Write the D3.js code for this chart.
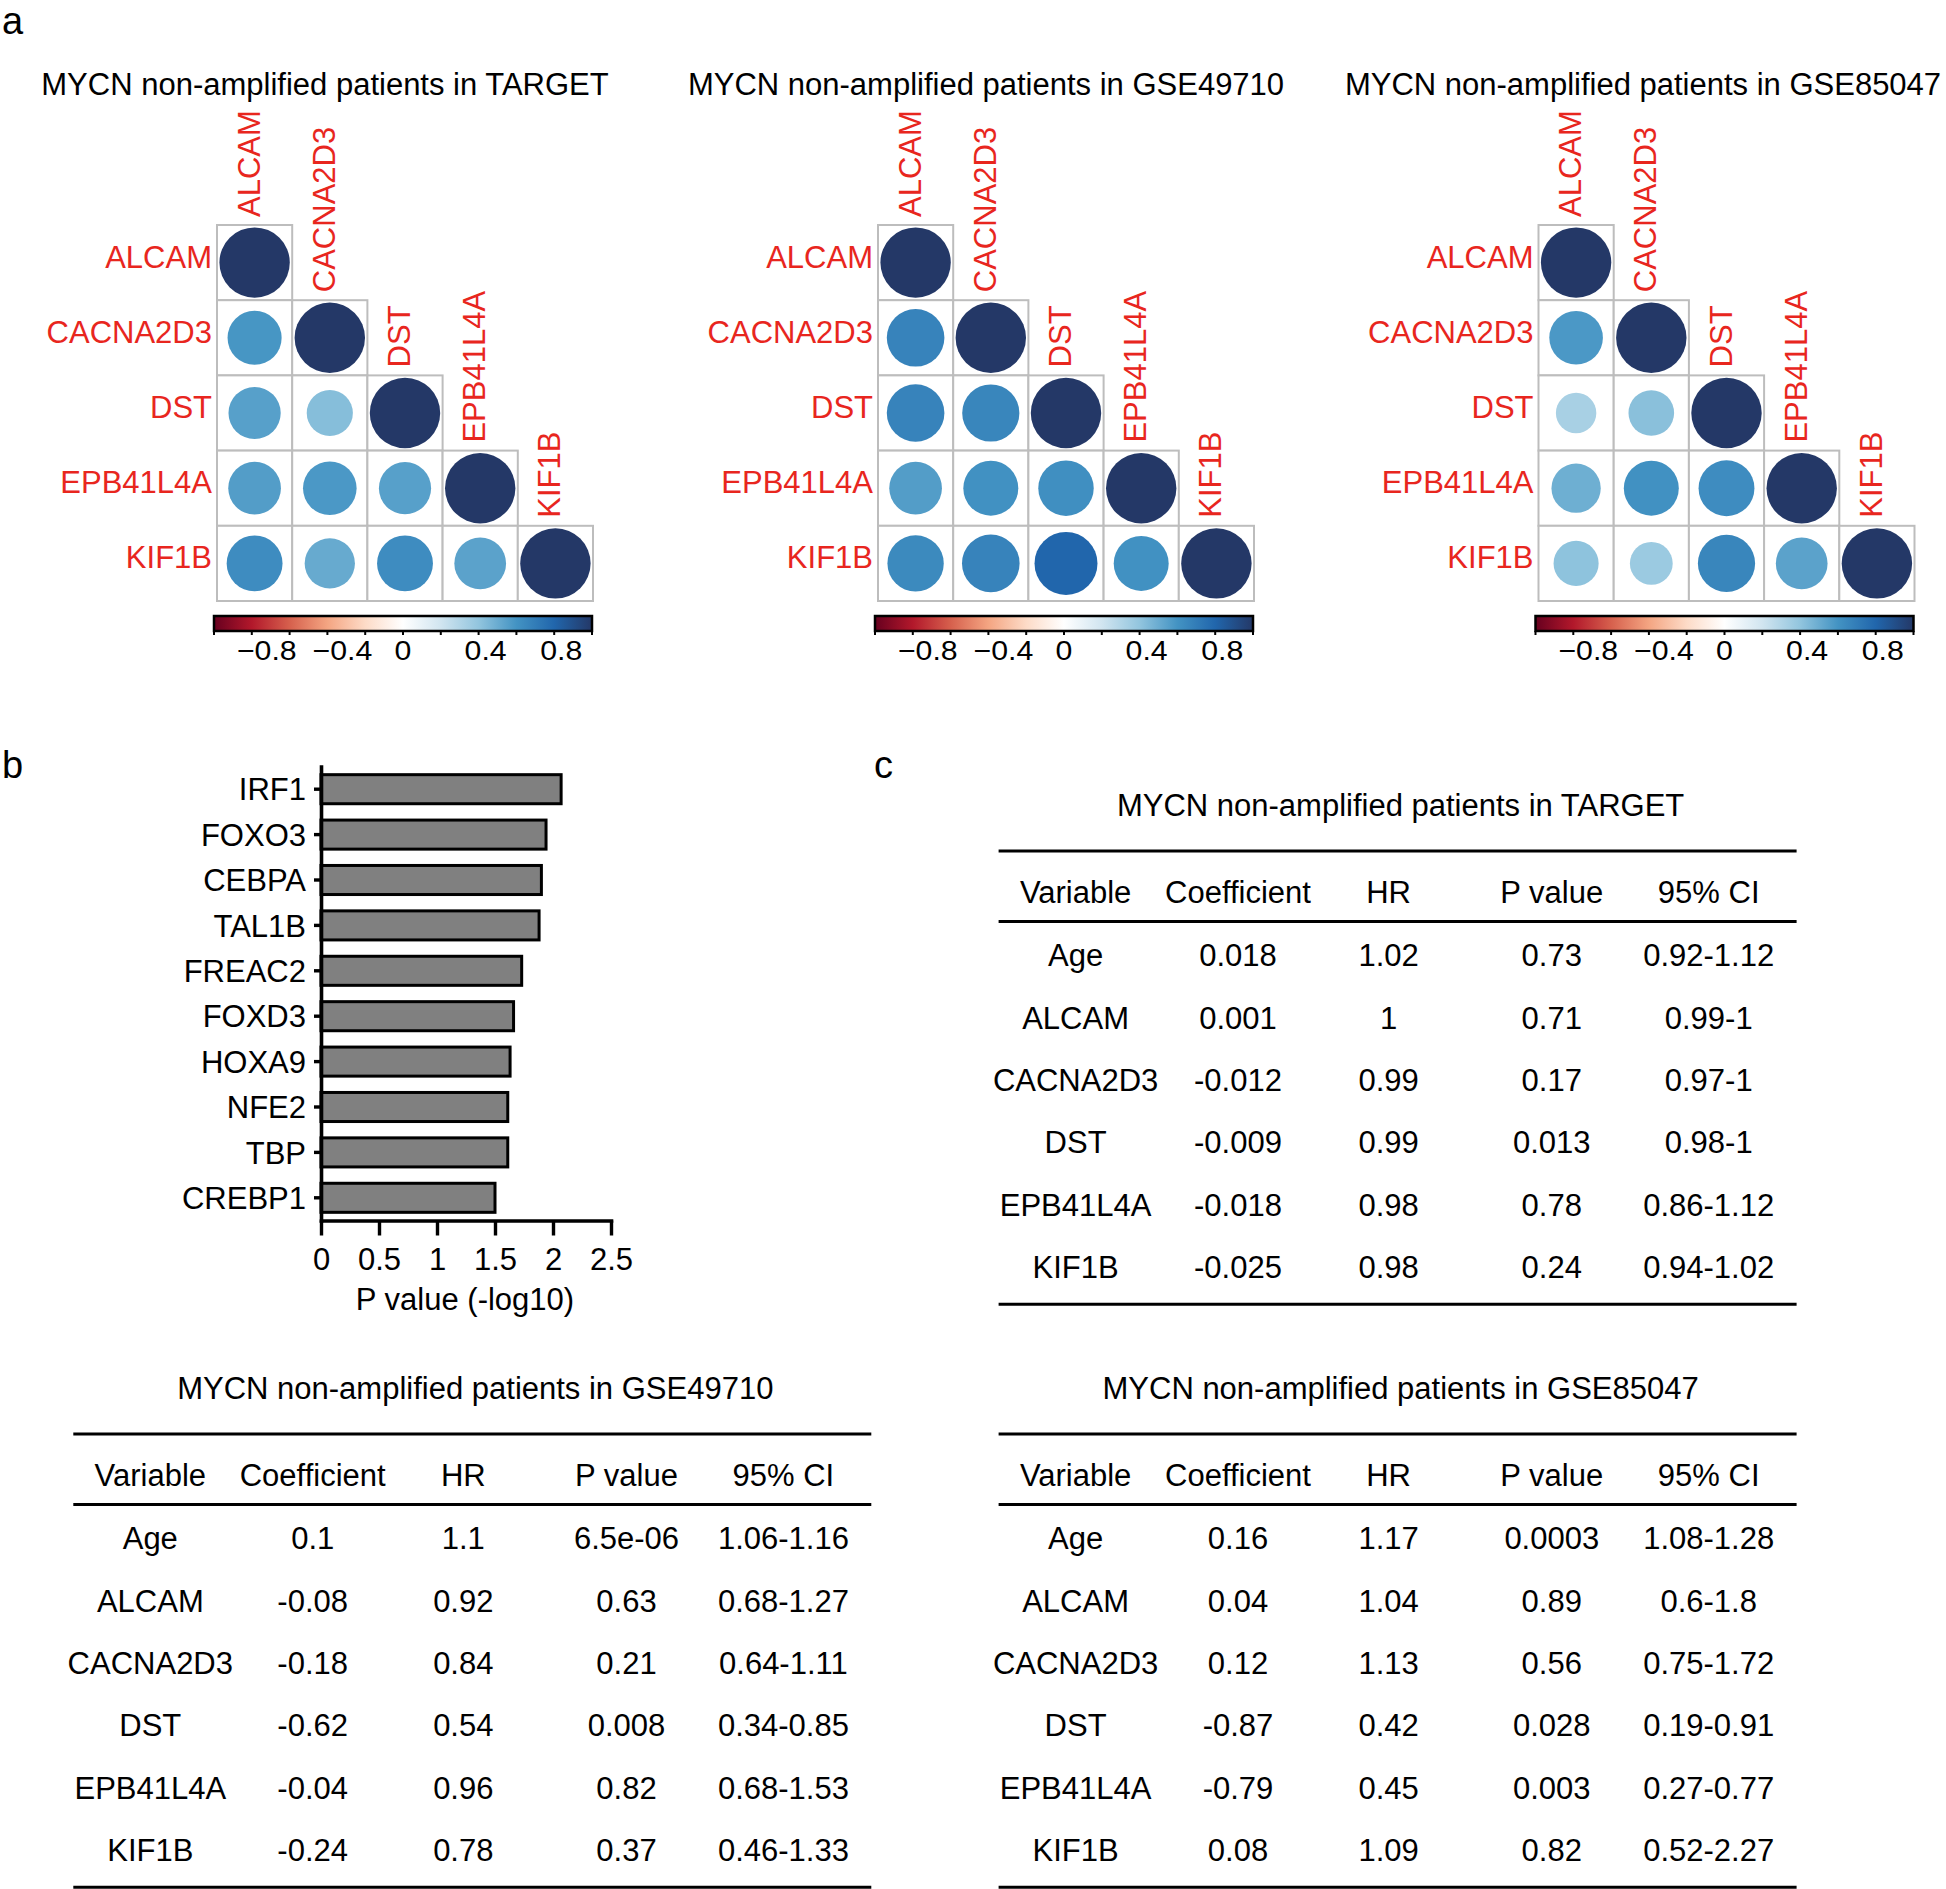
<!DOCTYPE html>
<html>
<head>
<meta charset="utf-8">
<script src="https://cdn.jsdelivr.net/npm/d3@7"></script>
<style>
  html, body { margin: 0; padding: 0; background: #fff; }
  svg text { font-family: "Liberation Sans", Arial, Helvetica, sans-serif; }
</style>
</head>
<body>
<svg id="fig" width="1946" height="1889"></svg>
<script>
var genes = ["ALCAM", "CACNA2D3", "DST", "EPB41L4A", "KIF1B"];
var cohorts = ["TARGET", "GSE49710", "GSE85047"];

// lower triangle of each correlation matrix, row by row (diagonal is 1)
var corTARGET = [[0.59], [0.55, 0.43], [0.56, 0.58, 0.55], [0.63, 0.51, 0.63, 0.54]];
var corGSE49710 = [[0.67], [0.67, 0.66], [0.56, 0.61, 0.62], [0.64, 0.67, 0.80, 0.61]];
var corGSE85047 = [[0.58], [0.33, 0.42], [0.49, 0.61, 0.63], [0.41, 0.37, 0.66, 0.54]];

var barLabels = ["-0.8", "-0.4", "0", "0.4", "0.8"];
var barLabelValues = [-0.8, -0.4, 0, 0.4, 0.8];
var palette = ["#67001F", "#B2182B", "#D6604D", "#F4A582", "#FDDBC7", "#FFFFFF",
  "#D1E5F0", "#92C5DE", "#4393C3", "#2166AC", "#243867"];

var tfNames = ["IRF1", "FOXO3", "CEBPA", "TAL1B", "FREAC2", "FOXD3", "HOXA9", "NFE2", "TBP", "CREBP1"];
var tfLogP = [2.07, 1.94, 1.90, 1.88, 1.73, 1.66, 1.63, 1.61, 1.61, 1.50];
var pTicks = [0, 0.5, 1, 1.5, 2, 2.5];

var tableHeader = ["Variable", "Coefficient", "HR", "P value", "95% CI"];
var variables = ["Age", "ALCAM", "CACNA2D3", "DST", "EPB41L4A", "KIF1B"];
var coefTARGET = ["0.018", "0.001", "-0.012", "-0.009", "-0.018", "-0.025"];
var hrTARGET = ["1.02", "1", "0.99", "0.99", "0.98", "0.98"];
var pTARGET = ["0.73", "0.71", "0.17", "0.013", "0.78", "0.24"];
var ciTARGET = ["0.92-1.12", "0.99-1", "0.97-1", "0.98-1", "0.86-1.12", "0.94-1.02"];
var coefGSE49710 = ["0.1", "-0.08", "-0.18", "-0.62", "-0.04", "-0.24"];
var hrGSE49710 = ["1.1", "0.92", "0.84", "0.54", "0.96", "0.78"];
var pGSE49710 = ["6.5e-06", "0.63", "0.21", "0.008", "0.82", "0.37"];
var ciGSE49710 = ["1.06-1.16", "0.68-1.27", "0.64-1.11", "0.34-0.85", "0.68-1.53", "0.46-1.33"];
var coefGSE85047 = ["0.16", "0.04", "0.12", "-0.87", "-0.79", "0.08"];
var hrGSE85047 = ["1.17", "1.04", "1.13", "0.42", "0.45", "1.09"];
var pGSE85047 = ["0.0003", "0.89", "0.56", "0.028", "0.003", "0.82"];
var ciGSE85047 = ["1.08-1.28", "0.6-1.8", "0.75-1.72", "0.19-0.91", "0.27-0.77", "0.52-2.27"];

(function() {
  var svg = d3.select("#fig");
  var RED = "#e8261e";
  var cellSize = 75.2, gridTop = 225;
  var panelLeft = [217, 878, 1538.5];
  var corrSets = [corTARGET, corGSE49710, corGSE85047];

  var color = d3.scaleLinear()
    .domain(palette.map(function(d, i) { return -1 + i * 0.2; }))
    .range(palette)
    .interpolate(d3.interpolateRgb);
  var radius = d3.scaleSqrt().domain([0, 1]).range([0, 35.2]);

  var grad = svg.append("defs").append("linearGradient").attr("id", "cbar");
  palette.forEach(function(c, i) {
    grad.append("stop").attr("offset", (i * 10) + "%").attr("stop-color", c);
  });

  function panelLabel(txt, x, y) {
    svg.append("text").attr("x", x).attr("y", y).attr("font-size", 38).text(txt);
  }

  function drawCorr(k) {
    var left = panelLeft[k], lower = corrSets[k];
    var band = d3.scaleBand().domain(genes).range([0, cellSize * genes.length]);
    var bw = band.bandwidth();
    var g = svg.append("g").attr("transform", "translate(" + left + "," + gridTop + ")");
    var cells = [];
    genes.forEach(function(row, i) {
      genes.forEach(function(col, j) {
        if (j > i) return;
        cells.push({row: row, col: col, r: i === j ? 1 : lower[i - 1][j]});
      });
    });
    g.selectAll("rect.cell").data(cells).enter().append("rect")
      .attr("class", "cell")
      .attr("x", function(d) { return band(d.col); })
      .attr("y", function(d) { return band(d.row); })
      .attr("width", bw).attr("height", bw)
      .attr("fill", "#fff").attr("stroke", "#bdbdbd").attr("stroke-width", 2);
    g.selectAll("circle").data(cells).enter().append("circle")
      .attr("cx", function(d) { return band(d.col) + bw / 2; })
      .attr("cy", function(d) { return band(d.row) + bw / 2; })
      .attr("r", function(d) { return radius(Math.abs(d.r)); })
      .attr("fill", function(d) { return color(d.r); });

    g.selectAll("text.row").data(genes).enter().append("text")
      .attr("x", -5)
      .attr("y", function(d) { return band(d) + bw / 2 + 5; })
      .attr("text-anchor", "end")
      .attr("font-size", 31).attr("fill", RED)
      .text(function(d) { return d; });
    g.selectAll("text.col").data(genes).enter().append("text")
      .attr("transform", function(d) {
        return "translate(" + (band(d) + bw / 2 + 5) + "," + (band(d) - 8) + ") rotate(-90)";
      })
      .attr("font-size", 31).attr("fill", RED)
      .text(function(d) { return d; });

    svg.append("text").attr("x", Math.min(left + 108, 1643)).attr("y", 95)
      .attr("text-anchor", "middle").attr("font-size", 31)
      .text("MYCN non-amplified patients in " + cohorts[k]);

    // colour bar
    var cb = d3.scaleLinear().domain([-1, 1]).range([left - 3, left + cellSize * 5 - 1]);
    svg.append("rect").attr("x", cb(-1)).attr("y", 616)
      .attr("width", cb(1) - cb(-1)).attr("height", 15)
      .attr("fill", "url(#cbar)").attr("stroke", "#000").attr("stroke-width", 2.5);
    svg.selectAll(null).data(d3.range(11)).enter().append("line")
      .attr("x1", function(i) { return cb(-1 + i * 0.2); })
      .attr("x2", function(i) { return cb(-1 + i * 0.2); })
      .attr("y1", 631).attr("y2", 635)
      .attr("stroke", "#000").attr("stroke-width", 2);
    svg.selectAll(null).data(barLabelValues).enter().append("text")
      .attr("transform", function(v) {
        var dx = v < 0 ? 15 : (v > 0 ? 7 : 0);
        return "translate(" + (cb(v) + dx) + ",660) scale(1.08,1)";
      })
      .attr("text-anchor", "middle").attr("font-size", 28)
      .text(function(v, i) { return barLabels[i].replace("-", "\u2212"); });
  }

  function drawBars() {
    var x = d3.scaleLinear().domain([0, 2.5]).range([321, 611]);
    var y = d3.scaleBand().domain(tfNames).range([766.5, 1220.5])
      .paddingInner(0.36).paddingOuter(0.18);
    var g = svg.append("g");
    g.selectAll("rect").data(tfNames).enter().append("rect")
      .attr("x", x(0))
      .attr("y", function(d) { return y(d); })
      .attr("width", function(d, i) { return x(tfLogP[i]) - x(0); })
      .attr("height", y.bandwidth())
      .attr("fill", "#808080").attr("stroke", "#000").attr("stroke-width", 3);

    var ya = g.append("g").attr("transform", "translate(" + x(0) + ",0)")
      .call(d3.axisLeft(y).tickSize(7).tickSizeOuter(0).tickPadding(8));
    var xa = g.append("g").attr("transform", "translate(0," + y.range()[1] + ")")
      .call(d3.axisBottom(x).tickValues(pTicks).tickSize(15).tickSizeOuter(0).tickPadding(12)
        .tickFormat(function(d) { return String(d); }));
    [ya, xa].forEach(function(a) {
      a.attr("font-size", 31).attr("font-family", null);
      a.select(".domain").attr("stroke-width", 3.6).attr("stroke-linecap", "square");
      a.selectAll(".tick line").attr("stroke-width", 3.4);
    });
    ya.selectAll(".tick text").attr("dy", "0.36em");
    g.append("text").attr("x", (x(0) + x(2.5)) / 2 - 1).attr("y", 1310)
      .attr("text-anchor", "middle").attr("font-size", 31)
      .text("P value (-log10)");
  }

  var tableColX = [77, 239.4, 390, 553.2, 710.1];

  function drawTable(x0, y0, cohort, cols) {
    var g = svg.append("g").attr("transform", "translate(" + x0 + "," + y0 + ")");
    var rowY = d3.scalePoint().domain(variables).range([104.1, 416.1]);
    g.append("text").attr("x", 402).attr("y", -35)
      .attr("text-anchor", "middle").attr("font-size", 31)
      .text("MYCN non-amplified patients in " + cohort);
    g.selectAll("line").data([0, 70.6, 453.2]).enter().append("line")
      .attr("x1", 0).attr("x2", 798)
      .attr("y1", function(d) { return d; }).attr("y2", function(d) { return d; })
      .attr("stroke", "#000").attr("stroke-width", 3);
    g.selectAll("text.head").data(tableHeader).enter().append("text")
      .attr("x", function(d, i) { return tableColX[i]; })
      .attr("y", 40.6).attr("dy", "0.36em")
      .attr("text-anchor", "middle").attr("font-size", 31)
      .text(function(d) { return d; });
    [variables].concat(cols).forEach(function(col, c) {
      g.selectAll(null).data(col).enter().append("text")
        .attr("x", tableColX[c])
        .attr("y", function(d, i) { return rowY(variables[i]); })
        .attr("dy", "0.36em")
        .attr("text-anchor", "middle").attr("font-size", 31)
        .text(function(d) { return d; });
    });
  }

  panelLabel("a", 2, 34);
  panelLabel("b", 2, 778);
  panelLabel("c", 874, 778);
  [0, 1, 2].forEach(drawCorr);
  drawBars();
  drawTable(998.6, 851, "TARGET", [coefTARGET, hrTARGET, pTARGET, ciTARGET]);
  drawTable(73.3, 1434, "GSE49710", [coefGSE49710, hrGSE49710, pGSE49710, ciGSE49710]);
  drawTable(998.6, 1434, "GSE85047", [coefGSE85047, hrGSE85047, pGSE85047, ciGSE85047]);
}).call(this);
</script>
</body>
</html>
